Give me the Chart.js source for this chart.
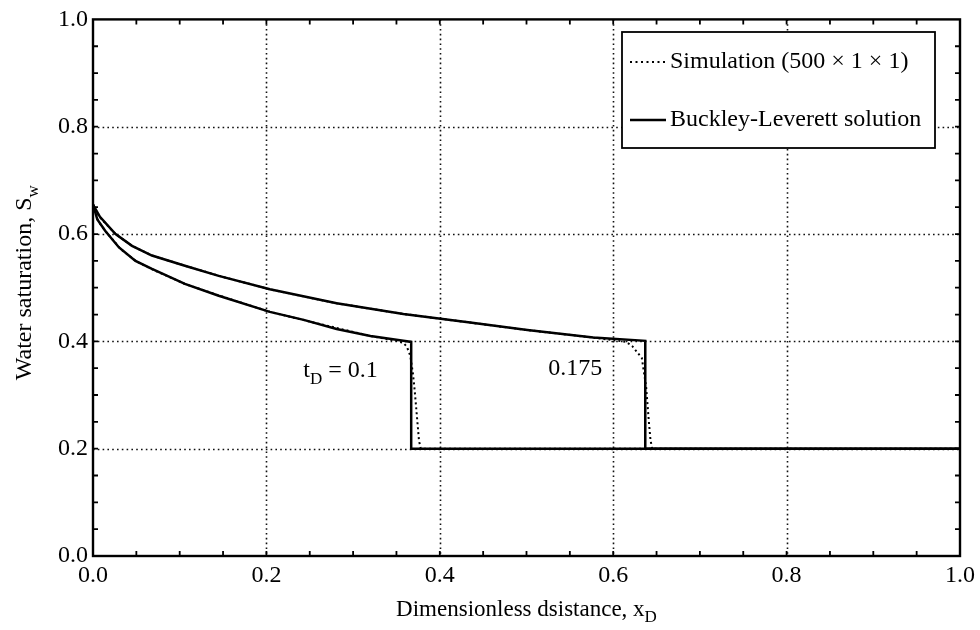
<!DOCTYPE html>
<html>
<head>
<meta charset="utf-8">
<script src="https://cdn.jsdelivr.net/npm/chart.js@4/dist/chart.umd.min.js"></script>
<style>
  html, body { margin: 0; padding: 0; background: #fff; }
  #wrap { width: 980px; height: 630px; }
</style>
</head>
<body>
<div id="wrap"><canvas id="c" width="980" height="630"></canvas></div>
<script>
// Buckley-Leverett analytic profiles, t_D = 0.1 and t_D = 0.175
const blX_01  = [0, 0.005, 0.014, 0.030, 0.049, 0.068, 0.106, 0.145, 0.204, 0.243, 0.281, 0.320, 0.358, 0.367, 0.367, 1.0];
const blY_01  = [0.655, 0.627, 0.606, 0.575, 0.550, 0.535, 0.507, 0.485, 0.455, 0.440, 0.423, 0.410, 0.401, 0.399, 0.200, 0.200];
const blX_175 = [0, 0.008, 0.026, 0.045, 0.068, 0.106, 0.145, 0.204, 0.281, 0.358, 0.435, 0.501, 0.577, 0.637, 0.637, 1.0];
const blY_175 = [0.655, 0.632, 0.600, 0.578, 0.560, 0.541, 0.522, 0.497, 0.471, 0.451, 0.435, 0.421, 0.407, 0.401, 0.200, 0.200];

// 500 x 1 x 1 simulation profiles (smeared fronts)
const simX_01  = [0, 0.006, 0.016, 0.032, 0.050, 0.070, 0.106, 0.150, 0.204, 0.260, 0.320, 0.350, 0.358, 0.362, 0.366, 0.369, 0.371, 0.374, 0.376, 0.378, 1.0];
const simY_01  = [0.655, 0.624, 0.602, 0.572, 0.549, 0.533, 0.507, 0.483, 0.455, 0.433, 0.410, 0.401, 0.397, 0.390, 0.373, 0.340, 0.309, 0.253, 0.215, 0.200, 0.200];
const simX_175 = [0, 0.008, 0.026, 0.045, 0.068, 0.106, 0.150, 0.204, 0.281, 0.358, 0.435, 0.501, 0.577, 0.615, 0.622, 0.633, 0.638, 0.641, 0.643, 0.645, 1.0];
const simY_175 = [0.655, 0.631, 0.600, 0.578, 0.560, 0.541, 0.520, 0.497, 0.471, 0.451, 0.435, 0.421, 0.407, 0.399, 0.391, 0.369, 0.315, 0.253, 0.216, 0.200, 0.200];

// Axis ticks
const majorTicks = [0, 0.2, 0.4, 0.6, 0.8, 1.0];
const minorStep = 0.05;

const legendLabels = ['Simulation (500 \u00d7 1 \u00d7 1)', 'Buckley-Leverett solution'];

const FONT = "'Liberation Serif', 'Times New Roman', serif";

function pts(xs, ys) { return xs.map((x, i) => ({ x: x, y: ys[i] })); }

// dotted grid, closed frame and inward tick marks
const framePlugin = {
  id: 'frame',
  beforeDatasetsDraw(chart) {
    const { ctx, chartArea: a, scales: { x, y } } = chart;
    ctx.save();
    ctx.strokeStyle = '#111';
    ctx.lineWidth = 1.6;
    ctx.setLineDash([1.6, 3.2]);
    majorTicks.forEach(v => {
      if (v > 0 && v < 1) {
        const px = Math.round(x.getPixelForValue(v)) + 0.5;
        ctx.beginPath(); ctx.moveTo(px, a.top); ctx.lineTo(px, a.bottom); ctx.stroke();
        const py = Math.round(y.getPixelForValue(v)) + 0.5;
        ctx.beginPath(); ctx.moveTo(a.left, py); ctx.lineTo(a.right, py); ctx.stroke();
      }
    });
    ctx.restore();
  },
  afterDatasetsDraw(chart) {
    const { ctx, chartArea: a, scales: { x, y } } = chart;
    ctx.save();
    ctx.strokeStyle = '#000';
    ctx.lineWidth = 2.4;
    ctx.setLineDash([]);
    ctx.strokeRect(a.left, a.top, a.right - a.left, a.bottom - a.top);
    ctx.lineWidth = 1.8;
    for (let i = 1; i < 20; i++) {
      const v = i * minorStep;
      const len = 5;
      const px = x.getPixelForValue(v);
      const py = y.getPixelForValue(v);
      ctx.beginPath();
      ctx.moveTo(px, a.bottom); ctx.lineTo(px, a.bottom - len);
      ctx.moveTo(px, a.top); ctx.lineTo(px, a.top + len);
      ctx.moveTo(a.left, py); ctx.lineTo(a.left + len, py);
      ctx.moveTo(a.right, py); ctx.lineTo(a.right - len, py);
      ctx.stroke();
    }
    ctx.restore();
  }
};

// text with a subscript run
function drawRich(ctx, parts, x, y, align, size) {
  const main = size + 'px ' + FONT, sub = Math.round(size * 0.72) + 'px ' + FONT;
  let w = 0;
  parts.forEach(p => { ctx.font = p.sub ? sub : main; w += ctx.measureText(p.t).width; });
  let cx = align === 'center' ? x - w / 2 : x;
  ctx.textBaseline = 'alphabetic';
  ctx.textAlign = 'left';
  parts.forEach(p => {
    ctx.font = p.sub ? sub : main;
    ctx.fillText(p.t, cx, y + (p.sub ? Math.round(size * 0.28) : 0));
    cx += ctx.measureText(p.t).width;
  });
}

const textPlugin = {
  id: 'texts',
  afterDraw(chart) {
    const { ctx, chartArea: a, scales: { x, y } } = chart;
    ctx.save();
    ctx.fillStyle = '#000';
    // axis titles
    drawRich(ctx, [{ t: 'Dimensionless dsistance, x' }, { t: 'D', sub: true }],
             (a.left + a.right) / 2, 616, 'center', 23);
    ctx.save();
    ctx.translate(31, (a.top + a.bottom) / 2 - 5);
    ctx.rotate(-Math.PI / 2);
    drawRich(ctx, [{ t: 'Water saturation, S' }, { t: 'w', sub: true }], 0, 0, 'center', 24);
    ctx.restore();
    // front labels
    drawRich(ctx, [{ t: 't' }, { t: 'D', sub: true }, { t: ' = 0.1' }],
             x.getPixelForValue(0.2425), y.getPixelForValue(0.334), 'left', 24);
    drawRich(ctx, [{ t: '0.175' }], x.getPixelForValue(0.525), y.getPixelForValue(0.337), 'left', 24);

    // legend box
    const bx = 622, by = 32, bw = 313, bh = 116;
    ctx.fillStyle = '#fff';
    ctx.fillRect(bx, by, bw, bh);
    ctx.strokeStyle = '#000';
    ctx.lineWidth = 1.8;
    ctx.strokeRect(bx, by, bw, bh);
    const rows = [by + 30, by + 88];
    const styles = [[2, 3.5], []];
    ctx.fillStyle = '#000';
    rows.forEach((ry, i) => {
      ctx.beginPath();
      ctx.setLineDash(styles[i]);
      ctx.lineWidth = i === 0 ? 2 : 2.4;
      ctx.moveTo(bx + 8, ry); ctx.lineTo(bx + 44, ry);
      ctx.stroke();
      ctx.setLineDash([]);
      ctx.font = '24px ' + FONT;
      ctx.textBaseline = 'middle';
      ctx.textAlign = 'left';
      ctx.fillText(legendLabels[i], bx + 48, ry);
    });
    ctx.restore();
  }
};

const solid = { borderColor: '#000', borderWidth: 2.5, pointRadius: 0, showLine: true, fill: false, tension: 0 };
const dotted = { borderColor: '#000', borderWidth: 2, borderDash: [2, 3], pointRadius: 0, showLine: true, fill: false, tension: 0 };

new Chart(document.getElementById('c'), {
  type: 'scatter',
  data: {
    datasets: [
      Object.assign({ label: legendLabels[1], data: pts(blX_01, blY_01) }, solid),
      Object.assign({ label: legendLabels[1], data: pts(blX_175, blY_175) }, solid),
      Object.assign({ label: legendLabels[0], data: pts(simX_01, simY_01) }, dotted),
      Object.assign({ label: legendLabels[0], data: pts(simX_175, simY_175) }, dotted)
    ]
  },
  options: {
    responsive: false,
    animation: false,
    devicePixelRatio: 1,
    layout: { padding: { top: 19, right: 20, left: 0, bottom: 0 } },
    plugins: { legend: { display: false }, tooltip: { enabled: false } },
    scales: {
      x: {
        type: 'linear', min: 0, max: 1,
        grid: { display: false, drawTicks: false },
        border: { display: false },
        ticks: {
          stepSize: 0.2, maxRotation: 0, padding: 5, color: '#000',
          font: { family: FONT, size: 24 },
          callback: v => Number(v).toFixed(1)
        },
        afterFit(s) { s.height = 74; }
      },
      y: {
        type: 'linear', min: 0, max: 1,
        grid: { display: false, drawTicks: false },
        border: { display: false },
        ticks: {
          stepSize: 0.2, padding: 5, color: '#000',
          font: { family: FONT, size: 24 },
          callback: v => Number(v).toFixed(1)
        },
        afterFit(s) { s.width = 93; }
      }
    }
  },
  plugins: [framePlugin, textPlugin]
});
</script>
</body>
</html>
